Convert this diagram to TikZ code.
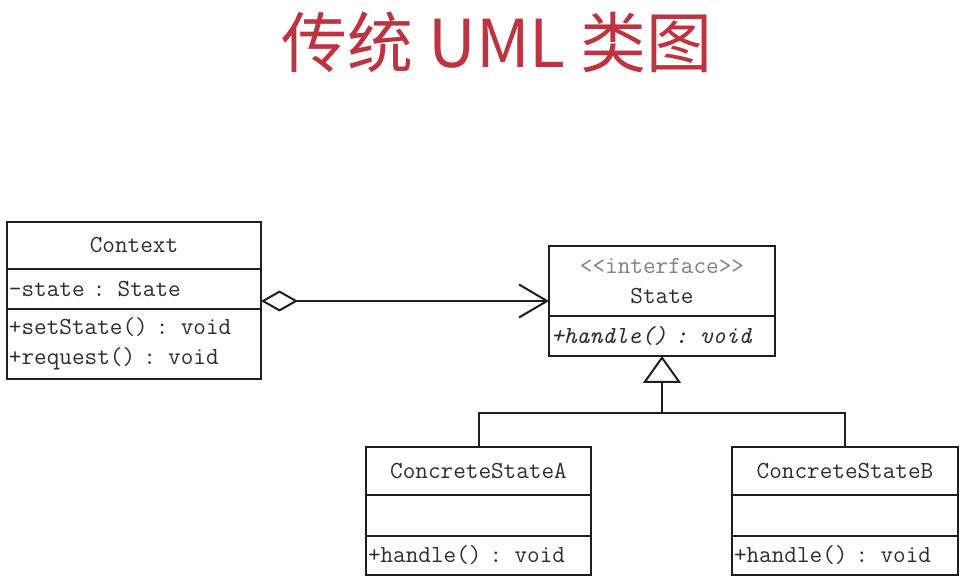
\documentclass[tikz,border=0pt]{standalone}
\usepackage{fontspec}
\newfontfamily\cjkfont{Noto Sans CJK SC}
\usepackage{tikz}
\usetikzlibrary{arrows.meta}

\definecolor{titlered}{RGB}{188,52,64}
\definecolor{umltext}{RGB}{45,45,45}
\definecolor{umlline}{RGB}{30,30,30}

\begin{document}
\begin{tikzpicture}[x=1pt,y=-1pt,
  every node/.style={font=\ttfamily\fontsize{24.5}{30}\selectfont,text=umltext},
  box/.style={draw=umlline,line width=2pt,inner sep=0pt,outer sep=0pt},
  boxl/.style={box,align=left,text width=#1,inner xsep=2pt},
  agg/.style={draw=umlline,line width=2pt,{Diamond[open,length=37pt,width=21pt]}-{Straight Barb[length=28pt,width=33pt]}},
  gen/.style={draw=umlline,line width=2pt,-{Triangle[open,length=27pt,width=38pt]}}]

      \path[use as bounding box] (0,0) rectangle (967,585);

      \node[font=\cjkfont\fontsize{66}{66}\selectfont,text=titlered] (title) at (497,42) {传统 UML 类图};

      % context
      \node[box,minimum width=254pt,minimum height=47pt]      (ctxname) at (134,245.5) {Context};
      \node[boxl=250pt,minimum width=254pt,minimum height=40pt] (ctxattr) at (134,289)   {-state : State};
      \node[boxl=250pt,minimum width=254pt,minimum height=70pt] (ctxops)  at (134,344)   {+setState() : void\\+request() : void};

      % state
      \node[box,align=center,minimum width=226pt,minimum height=70pt] (stname) at (662,281)
            {{\color{gray}<<interface>>}\\State};
      \node[boxl=222pt,minimum width=226pt,minimum height=40pt] (stops) at (662,336) {\itshape +handle() : void};

      % concrete states
      \node[box,minimum width=225pt,minimum height=48pt]        (csaname) at (478.5,471)   {ConcreteStateA};
      \node[box,minimum width=225pt,minimum height=41pt]        (csaattr) at (478.5,515.5) {};
      \node[boxl=221pt,minimum width=225pt,minimum height=39pt] (csaops)  at (478.5,555.5) {+handle() : void};

      \node[box,minimum width=226pt,minimum height=48pt]        (csbname) at (845,471)   {ConcreteStateB};
      \node[box,minimum width=226pt,minimum height=41pt]        (csbattr) at (845,515.5) {};
      \node[boxl=222pt,minimum width=226pt,minimum height=39pt] (csbops)  at (845,555.5) {+handle() : void};

      \coordinate (aggfrom) at ([yshift=-12pt]ctxattr.east);
      \draw[agg] (aggfrom) -- (aggfrom -| stname.west);

      \coordinate (jn) at ([yshift=-57pt]stops.south);
      \draw[draw=umlline,line width=2pt] (csaname.north) |- (jn) -| (csbname.north);
      \draw[gen] (jn) -- (stops.south);
    \end{tikzpicture}
\end{document}
